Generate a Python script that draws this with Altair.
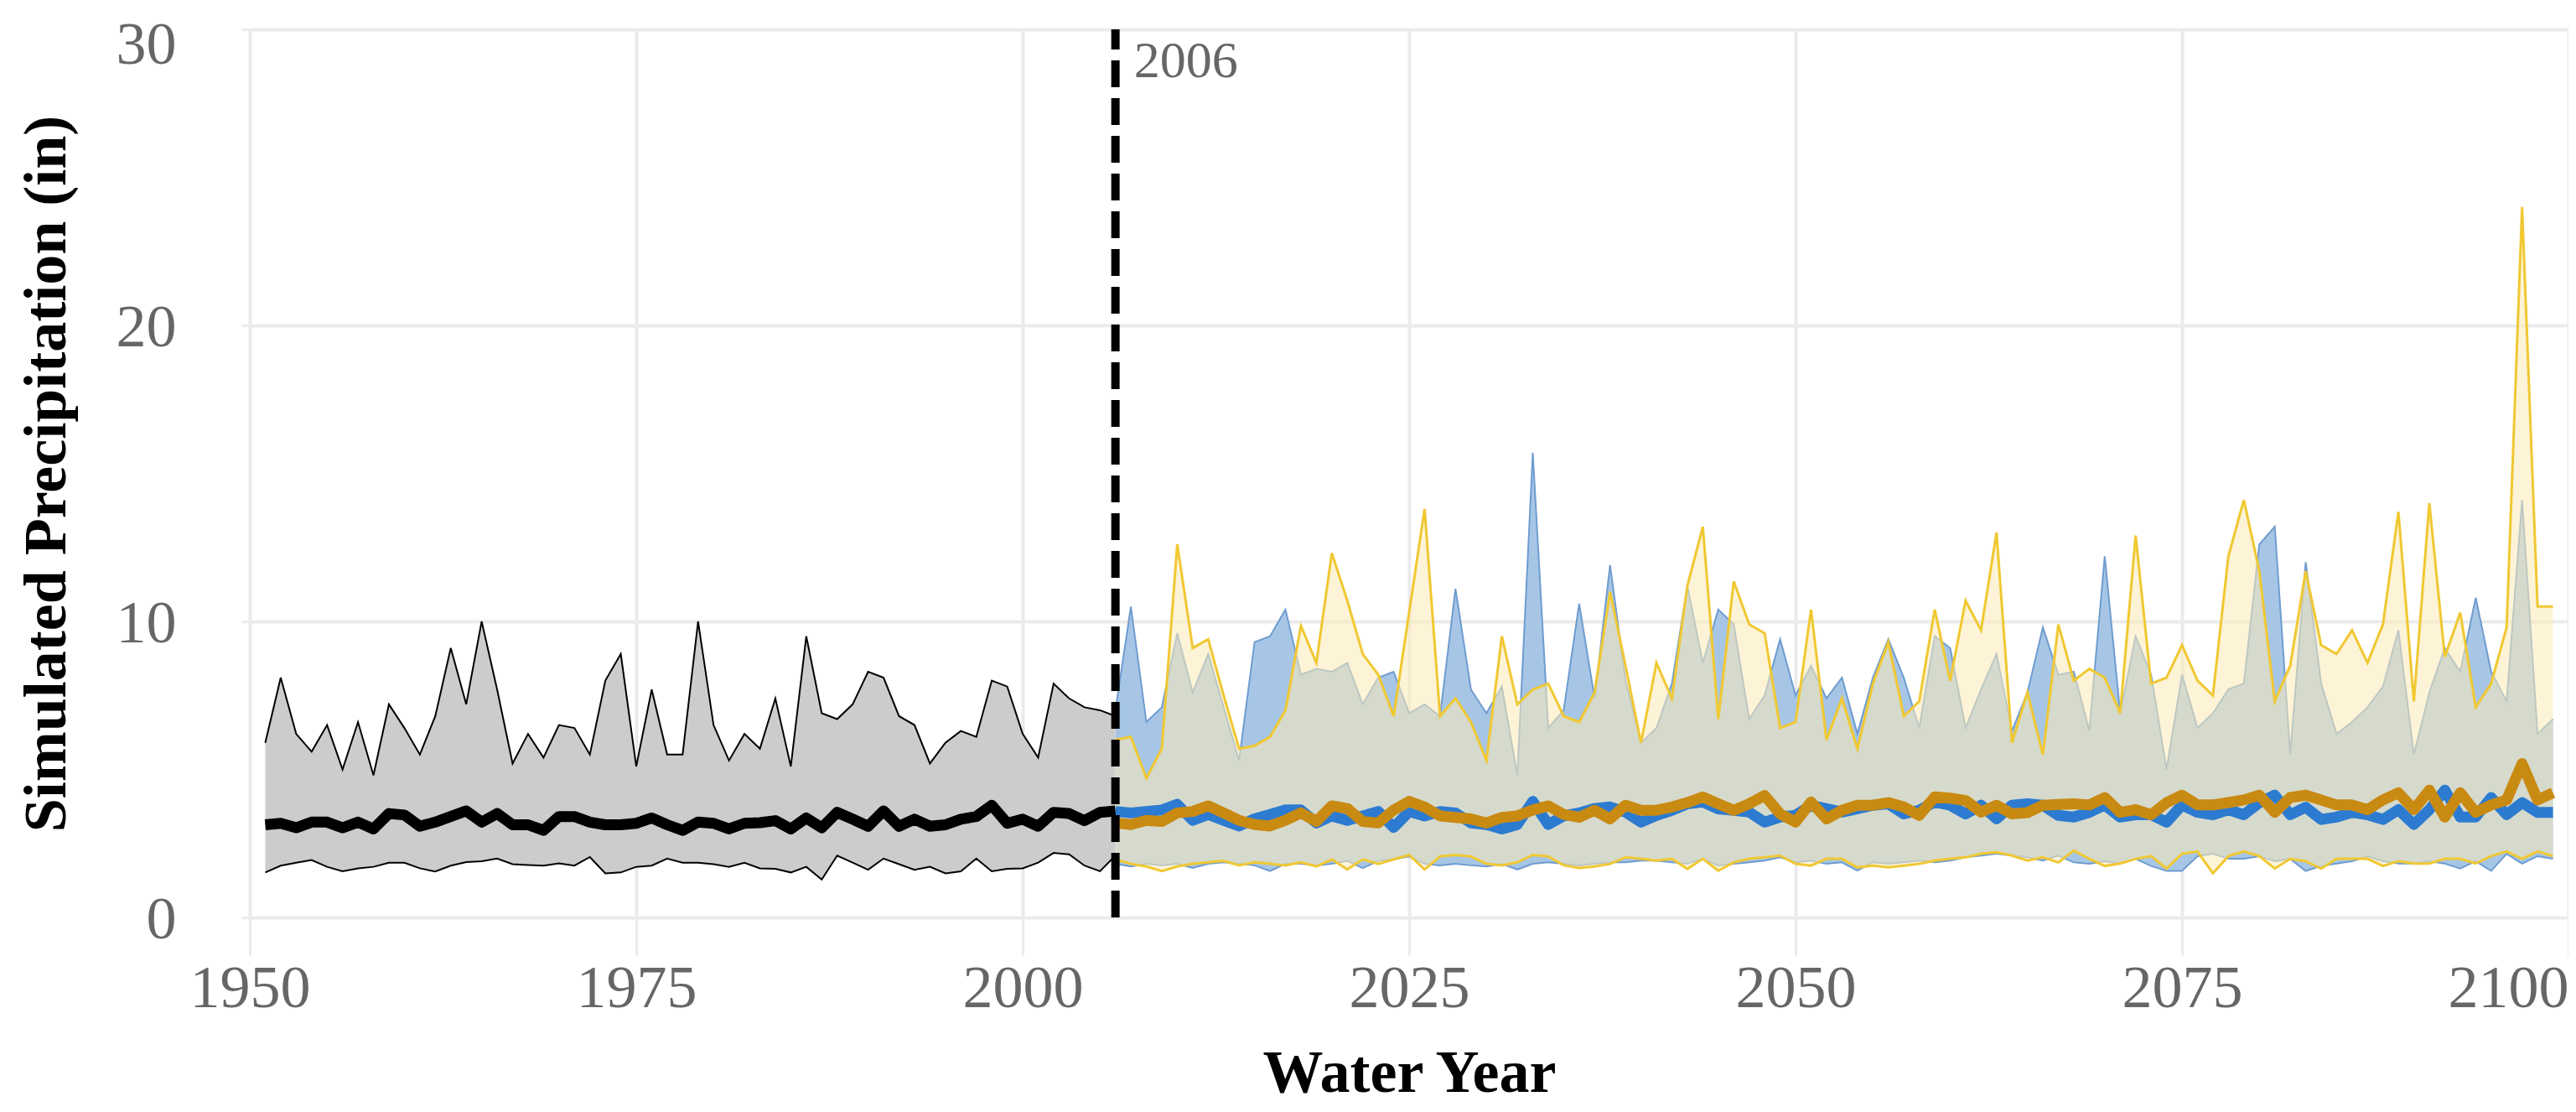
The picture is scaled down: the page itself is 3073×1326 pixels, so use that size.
import altair as alt
import pandas as pd

# ---------------- data ----------------
hist_years = list(range(1951, 2007))
hist_max = [5.9, 8.1, 6.2, 5.6, 6.5, 5.0, 6.6, 4.8, 7.2, 6.4,
            5.5, 6.8, 9.1, 7.2, 10.0, 7.7, 5.2, 6.2, 5.4, 6.5,
            6.4, 5.5, 8.0, 8.9, 5.1, 7.7, 5.5, 5.5, 10.0, 6.5,
            5.3, 6.2, 5.7, 7.4, 5.1, 9.5, 6.9, 6.7, 7.2, 8.3,
            8.1, 6.8, 6.5, 5.2, 5.9, 6.3, 6.1, 8.0, 7.8, 6.2,
            5.4, 7.9, 7.4, 7.1, 7.0, 6.8]
hist_mean = [3.13, 3.18, 3.03, 3.22, 3.22, 3.03, 3.22, 2.99, 3.51, 3.46,
             3.08, 3.22, 3.41, 3.60, 3.22, 3.51, 3.13, 3.13, 2.94, 3.41,
             3.41, 3.22, 3.13, 3.13, 3.18, 3.36, 3.13, 2.94, 3.22, 3.18,
             2.99, 3.18, 3.20, 3.27, 2.99, 3.36, 3.03, 3.55, 3.32, 3.08,
             3.60, 3.08, 3.32, 3.08, 3.13, 3.32, 3.41, 3.79, 3.18, 3.32,
             3.08, 3.55, 3.51, 3.27, 3.55, 3.60]
hist_min = [1.52, 1.75, 1.85, 1.94, 1.71, 1.56, 1.66, 1.71, 1.85, 1.85,
            1.66, 1.55, 1.75, 1.87, 1.90, 1.99, 1.80, 1.77, 1.75, 1.83,
            1.75, 2.04, 1.49, 1.52, 1.71, 1.75, 1.99, 1.85, 1.85, 1.80,
            1.71, 1.85, 1.66, 1.64, 1.52, 1.71, 1.28, 2.09, 1.85, 1.61,
            1.99, 1.80, 1.61, 1.71, 1.49, 1.56, 1.99, 1.56, 1.64, 1.66,
            1.85, 2.18, 2.13, 1.75, 1.56, 2.09]

fut_years = list(range(2006, 2100))
rcp45_max = [7.0, 10.5, 6.6, 7.1,
             9.6, 7.6, 8.9, 7.1, 5.3, 9.3, 9.5, 10.4, 8.2, 8.4,
             8.3, 8.6, 7.2, 8.1, 8.3, 6.9, 7.2, 6.8, 11.1, 7.7,
             6.9, 7.8, 4.8, 15.7, 6.4, 7.0, 10.6, 7.4, 11.9, 8.0,
             5.9, 6.4, 7.9, 11.2, 8.6, 10.4, 9.9, 6.7, 7.5, 9.4,
             7.5, 8.5, 7.4, 8.1, 6.2, 8.1, 9.4, 8.1, 6.4, 9.5,
             9.1, 6.4, 7.7, 8.9, 6.3, 7.6, 9.8, 8.2, 8.3, 6.3,
             12.2, 6.9, 9.5, 8.2, 5.0, 8.2, 6.4, 6.9, 7.7, 7.9,
             12.6, 13.2, 5.5, 12.0, 7.9, 6.2, 6.6, 7.1, 7.8, 9.7,
             5.5, 7.6, 9.1, 8.3, 10.8, 8.3, 7.3, 14.1, 6.2, 6.7]
rcp85_max = [6.0, 6.1, 4.7, 5.7,
             12.6, 9.1, 9.4, 7.5, 5.7, 5.8, 6.1, 7.0, 9.85, 8.6,
             12.3, 10.7, 8.9, 8.2, 6.8, 10.3, 13.8, 6.8, 7.4, 6.6,
             5.3, 9.5, 7.2, 7.7, 7.9, 6.8, 6.6, 7.6, 11.0, 8.5,
             5.9, 8.6, 7.4, 11.2, 13.2, 6.7, 11.35, 9.9, 9.6, 6.4,
             6.6, 10.4, 6.0, 7.4, 5.7, 7.9, 9.3, 6.8, 7.3, 10.4,
             8.0, 10.7, 9.7, 13.0, 5.9, 7.6, 5.5, 9.9, 8.0, 8.4,
             8.1, 6.9, 12.9, 7.9, 8.1, 9.2, 8.0, 7.5, 12.2, 14.1,
             11.7, 7.3, 8.5, 11.7, 9.2, 8.9, 9.7, 8.6, 9.9, 13.7,
             7.3, 14.0, 8.8, 10.3, 7.1, 7.9, 9.8, 24.0, 10.5, 10.5]
rcp45_mean = [3.58, 3.53, 3.58, 3.63,
              3.82, 3.28, 3.48, 3.28, 3.09, 3.33, 3.48, 3.63, 3.63, 3.19,
              3.43, 3.28, 3.43, 3.58, 3.04, 3.58, 3.43, 3.58, 3.53, 3.19,
              3.14, 2.99, 3.14, 3.92, 3.14, 3.43, 3.53, 3.68, 3.73, 3.56,
              3.22, 3.45, 3.62, 3.84, 3.90, 3.67, 3.62, 3.56, 3.22, 3.39,
              3.45, 3.79, 3.67, 3.56, 3.67, 3.79, 3.84, 3.50, 3.62, 3.90,
              3.79, 3.50, 3.79, 3.33, 3.79, 3.84, 3.79, 3.45, 3.39, 3.55,
              3.80, 3.39, 3.47, 3.47, 3.22, 3.80, 3.55, 3.47, 3.64, 3.47,
              3.88, 4.13, 3.47, 3.72, 3.31, 3.39, 3.55, 3.47, 3.31, 3.64,
              3.14, 3.64, 4.30, 3.39, 3.39, 4.05, 3.47, 3.88, 3.55, 3.55]
rcp85_mean = [3.19, 3.14, 3.28, 3.24,
              3.53, 3.58, 3.77, 3.53, 3.28, 3.14, 3.09, 3.28, 3.53, 3.24,
              3.77, 3.68, 3.24, 3.19, 3.63, 3.92, 3.73, 3.43, 3.38, 3.33,
              3.19, 3.38, 3.43, 3.63, 3.77, 3.48, 3.38, 3.62, 3.33, 3.79,
              3.62, 3.62, 3.73, 3.88, 4.07, 3.84, 3.62, 3.84, 4.12, 3.50,
              3.22, 3.90, 3.33, 3.62, 3.79, 3.79, 3.88, 3.73, 3.45, 4.07,
              4.03, 3.95, 3.56, 3.79, 3.50, 3.54, 3.79, 3.82, 3.84, 3.80,
              4.05, 3.55, 3.64, 3.47, 3.88, 4.13, 3.80, 3.80, 3.88, 3.97,
              4.13, 3.55, 4.05, 4.13, 3.97, 3.80, 3.80, 3.64, 3.97, 4.21,
              3.64, 4.30, 3.39, 4.21, 3.55, 3.80, 3.97, 5.20, 3.97, 4.21]
rcp45_min = [1.81, 1.72, 1.81, 1.76,
             1.81, 1.67, 1.81, 1.86, 1.81, 1.76, 1.57, 1.81, 1.81, 1.76,
             1.81, 1.91, 1.67, 1.91, 1.96, 2.06, 1.81, 1.76, 1.81, 1.76,
             1.72, 1.81, 1.62, 1.81, 1.86, 1.81, 1.76, 1.81, 1.86, 1.86,
             1.92, 1.92, 1.86, 1.81, 1.98, 1.75, 1.81, 1.86, 1.92, 2.03,
             1.86, 1.92, 1.81, 1.86, 1.58, 1.86, 1.81, 1.86, 1.92, 1.86,
             1.92, 2.03, 2.09, 2.15, 2.09, 2.03, 1.92, 2.09, 1.86, 1.81,
             1.90, 1.82, 1.98, 1.74, 1.57, 1.57, 2.07, 2.15, 1.98, 1.98,
             2.07, 1.90, 1.98, 1.57, 1.74, 1.82, 1.90, 2.07, 1.90, 1.82,
             1.82, 1.90, 1.82, 1.65, 1.90, 1.57, 2.15, 1.82, 2.07, 1.98]
rcp85_min = [1.96, 1.81, 1.72, 1.57,
             1.72, 1.81, 1.86, 1.91, 1.76, 1.86, 1.81, 1.76, 1.86, 1.72,
             1.96, 1.62, 1.96, 1.81, 1.96, 2.11, 1.62, 2.06, 2.11, 2.06,
             1.81, 1.76, 1.86, 2.11, 2.06, 1.76, 1.67, 1.72, 1.81, 2.03,
             1.98, 1.92, 1.98, 1.64, 1.98, 1.58, 1.86, 1.98, 2.03, 2.09,
             1.81, 1.75, 1.98, 1.98, 1.69, 1.75, 1.69, 1.75, 1.81, 1.92,
             1.98, 2.03, 2.15, 2.20, 2.09, 1.92, 2.03, 1.86, 2.26, 1.98,
             1.74, 1.82, 1.98, 2.07, 1.65, 2.15, 2.23, 1.49, 2.07, 2.23,
             2.07, 1.65, 1.98, 1.90, 1.65, 1.98, 1.98, 1.98, 1.74, 1.90,
             1.82, 1.82, 1.98, 1.98, 1.82, 2.07, 2.23, 1.98, 2.23, 2.07]

split_year = [2006]
split_label = ["2006"]
x_ticks = [1950, 1975, 2000, 2025, 2050, 2075, 2100]
y_ticks = [0, 10, 20, 30]

hist = pd.DataFrame({"year": hist_years, "lo": hist_min, "mean": hist_mean, "hi": hist_max})
fut = pd.DataFrame({"year": fut_years,
                    "b_lo": rcp45_min, "b_mean": rcp45_mean, "b_hi": rcp45_max,
                    "y_lo": rcp85_min, "y_mean": rcp85_mean, "y_hi": rcp85_max})
split = pd.DataFrame({"year": split_year, "y0": [0], "y1": [30], "label": split_label})

# ---------------- styling ----------------
FONT = "Liberation Serif"
GRID = "#ebebeb"
xs = alt.Scale(domain=[1950, 2100], nice=False, zero=False)
ys = alt.Scale(domain=[0, 30], nice=False, zero=True)

x_axis = alt.Axis(values=x_ticks, format="d", title="Water Year",
                  labelFont=FONT, labelFontSize=72, labelColor="#666666",
                  labelFlush=False, labelAlign={"expr": "datum.value == 2100 ? 'right' : 'center'"},
                  labelPadding=4, tickSize=45, tickColor=GRID, tickWidth=3,
                  grid=True, gridColor=GRID, gridWidth=4, domain=False,
                  titleFont=FONT, titleFontSize=72, titleFontWeight="bold",
                  titleColor="#000000", titlePadding=30)
y_axis = alt.Axis(values=y_ticks, format="d", title="Simulated Precipitation (in)",
                  labelFont=FONT, labelFontSize=72, labelColor="#666666",
                  labelOffset={"expr": "datum.value == 30 ? 18 : 2"},
                  labelPadding=78, tickSize=10, tickColor=GRID, tickWidth=3,
                  grid=True, gridColor=GRID, gridWidth=4, domain=False,
                  titleFont=FONT, titleFontSize=72, titleFontWeight="bold",
                  titleColor="#000000", titlePadding=46)

X = alt.X("year:Q", scale=xs, axis=x_axis)


def Y(field):
    return alt.Y(f"{field}:Q", scale=ys, axis=y_axis)


hist_area = alt.Chart(hist).mark_area(color="#cccccc", opacity=1).encode(x=X, y=Y("lo"), y2="hi:Q")
hist_hi = alt.Chart(hist).mark_line(color="#000000", strokeWidth=2).encode(x=X, y=Y("hi"))
hist_lo = alt.Chart(hist).mark_line(color="#000000", strokeWidth=2).encode(x=X, y=Y("lo"))

b_area = alt.Chart(fut).mark_area(color="#a7c6e6", opacity=1).encode(x=X, y=Y("b_lo"), y2="b_hi:Q")
b_hi = alt.Chart(fut).mark_line(color="#6f9ccf", strokeWidth=2).encode(x=X, y=Y("b_hi"))
b_lo = alt.Chart(fut).mark_line(color="#6f9ccf", strokeWidth=2).encode(x=X, y=Y("b_lo"))

y_area = alt.Chart(fut).mark_area(color="#fbe9b7", opacity=0.56).encode(x=X, y=Y("y_lo"), y2="y_hi:Q")
y_hi = alt.Chart(fut).mark_line(color="#f0c832", strokeWidth=3).encode(x=X, y=Y("y_hi"))
y_lo = alt.Chart(fut).mark_line(color="#f0c832", strokeWidth=3).encode(x=X, y=Y("y_lo"))

b_mean = alt.Chart(fut).mark_line(color="#2c7bd1", strokeWidth=13, strokeJoin="round").encode(x=X, y=Y("b_mean"))
o_mean = alt.Chart(fut).mark_line(color="#c98a12", strokeWidth=13, strokeJoin="round").encode(x=X, y=Y("y_mean"))
h_mean = alt.Chart(hist).mark_line(color="#000000", strokeWidth=13, strokeJoin="round").encode(x=X, y=Y("mean"))

rule = alt.Chart(split).mark_rule(color="#000000", strokeWidth=10, strokeDash=[32, 13]).encode(
    x=X, y=Y("y0"), y2="y1:Q")
label = alt.Chart(split).mark_text(align="left", baseline="top", dx=22, dy=8,
                                   font=FONT, fontSize=62, color="#666666").encode(
    x=X, y=Y("y1"), text="label:N")

chart = alt.layer(hist_area, hist_hi, hist_lo, b_area, b_hi, b_lo, y_area, y_hi, y_lo,
                  b_mean, o_mean, h_mean, rule, label).properties(
    width=2766, height=1059,
    autosize=alt.AutoSizeParams(type="none"),
    padding={"left": 290, "top": 27, "right": 0, "bottom": 224},
    background="#ffffff",
).configure_view(stroke=None)

chart.save("out.html", embed_options={"renderer": "svg", "actions": False})
